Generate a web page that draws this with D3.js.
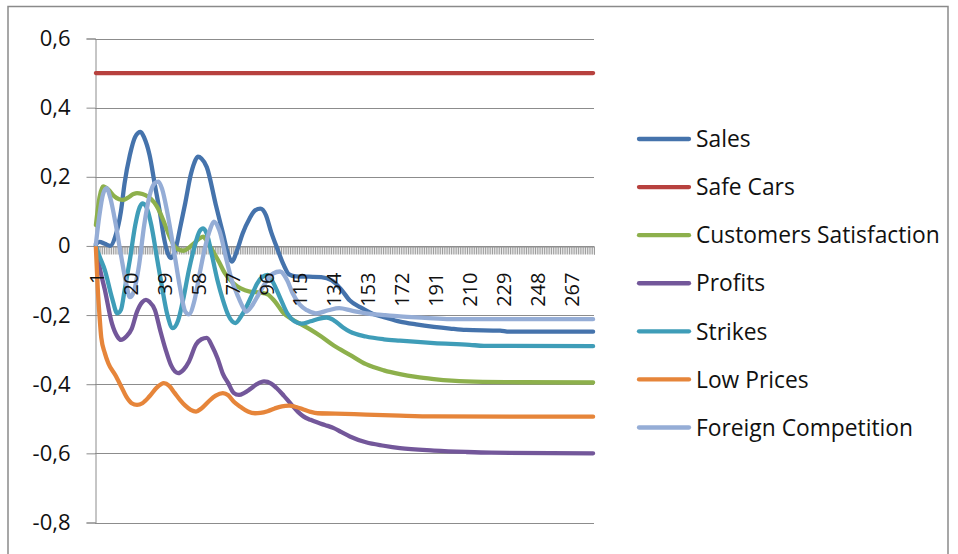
<!DOCTYPE html>
<html>
<head>
<meta charset="utf-8">
<script src="https://cdn.jsdelivr.net/npm/d3@7"></script>
<style>
  html, body { margin: 0; padding: 0; background: #fff; }
  svg { display: block; }
  text { font-family: "Open Sans", "Liberation Sans", sans-serif; fill: #111; }
</style>
</head>
<body>
<svg id="chart" width="958" height="554"></svg>
<script>
// ---------- data ----------
const categoryCount = 279;                       // categories 1 .. 279
const xTickLabels = [1, 20, 39, 58, 77, 96, 115, 134, 153, 172, 191, 210, 229, 248, 267];
const yTickValues = [-0.8, -0.6, -0.4, -0.2, 0, 0.2, 0.4, 0.6];
const seriesNames = ["Sales", "Safe Cars", "Customers Satisfaction", "Profits", "Strikes", "Low Prices", "Foreign Competition"];
const seriesColors = ["#4573AC", "#B7413E", "#8DB04C", "#73579A", "#3F9DB8", "#E6853A", "#95ADD6"];

// [category, value] readings
const sales = [[1,0.005],[3,0.012],[6,0.006],[9,0.0],[12,0.03],[15,0.1],[17,0.18],[20,0.263],[23,0.316],[26,0.33],[28,0.313],[31,0.263],[34,0.176],[37,0.09],[39,0.025],[43,-0.035],[46,0.0],[48,0.05],[51,0.125],[54,0.205],[56,0.24],[58,0.258],[60,0.253],[63,0.228],[68,0.12],[72,0.037],[75,-0.025],[77,-0.045],[80,-0.012],[83,0.035],[87,0.08],[90,0.103],[93,0.108],[96,0.09],[99,0.04],[102,-0.002],[106,-0.055],[109,-0.082],[113,-0.088],[120,-0.089],[127,-0.09],[133,-0.1],[138,-0.125],[143,-0.158],[149,-0.178],[156,-0.197],[162,-0.206],[171,-0.219],[180,-0.227],[190,-0.234],[199,-0.239],[208,-0.243],[227,-0.245],[232,-0.248],[279,-0.248]];
const safeCars = [[1,0.5],[279,0.5]];
const customersSatisfaction = [[1,0.06],[3,0.14],[5,0.172],[8,0.163],[11,0.145],[14,0.135],[16,0.133],[19,0.14],[22,0.15],[24,0.153],[27,0.15],[30,0.143],[32,0.135],[35,0.115],[37,0.095],[39,0.07],[41,0.043],[43,0.018],[45,-0.002],[47,-0.01],[50,-0.014],[53,-0.005],[56,0.008],[59,0.022],[61,0.027],[62,0.022],[65,-0.003],[70,-0.048],[73,-0.078],[76,-0.098],[79,-0.113],[82,-0.123],[87,-0.132],[93,-0.135],[97,-0.14],[101,-0.16],[106,-0.195],[110,-0.21],[115,-0.225],[121,-0.242],[127,-0.262],[134,-0.288],[143,-0.315],[152,-0.342],[162,-0.36],[171,-0.371],[180,-0.379],[190,-0.385],[208,-0.392],[230,-0.394],[279,-0.395]];
const profits = [[1,0.0],[3,-0.06],[6,-0.127],[10,-0.225],[13,-0.262],[15,-0.272],[18,-0.262],[21,-0.24],[24,-0.19],[27,-0.162],[29,-0.156],[31,-0.162],[34,-0.185],[37,-0.245],[40,-0.3],[43,-0.345],[47,-0.368],[50,-0.358],[53,-0.335],[57,-0.285],[60,-0.27],[63,-0.266],[66,-0.29],[69,-0.325],[72,-0.37],[75,-0.397],[78,-0.425],[81,-0.431],[84,-0.425],[87,-0.415],[91,-0.4],[95,-0.392],[99,-0.398],[102,-0.411],[106,-0.433],[110,-0.457],[114,-0.48],[117,-0.493],[121,-0.503],[125,-0.511],[129,-0.518],[134,-0.527],[138,-0.538],[143,-0.551],[152,-0.568],[162,-0.578],[171,-0.585],[190,-0.592],[208,-0.596],[222,-0.598],[279,-0.6]];
const strikes = [[1,0.0],[3,-0.03],[6,-0.07],[10,-0.15],[13,-0.195],[15,-0.185],[17,-0.13],[20,-0.04],[23,0.06],[25,0.105],[27,0.123],[29,0.115],[32,0.06],[35,-0.03],[38,-0.12],[41,-0.2],[44,-0.238],[47,-0.215],[50,-0.15],[53,-0.07],[56,-0.005],[59,0.043],[61,0.051],[63,0.035],[66,-0.03],[69,-0.1],[72,-0.156],[75,-0.2],[79,-0.223],[82,-0.205],[85,-0.178],[88,-0.145],[91,-0.11],[94,-0.09],[97,-0.084],[100,-0.105],[104,-0.15],[108,-0.195],[112,-0.218],[116,-0.225],[121,-0.218],[126,-0.21],[130,-0.207],[134,-0.215],[139,-0.235],[143,-0.248],[152,-0.262],[162,-0.27],[171,-0.274],[190,-0.281],[210,-0.286],[218,-0.289],[279,-0.29]];
const lowPrices = [[1,-0.005],[2,-0.12],[3,-0.2],[4,-0.265],[6,-0.31],[8,-0.34],[12,-0.375],[15,-0.405],[18,-0.436],[21,-0.455],[24,-0.46],[27,-0.455],[31,-0.435],[35,-0.41],[39,-0.397],[42,-0.405],[45,-0.425],[48,-0.445],[51,-0.462],[54,-0.474],[57,-0.479],[60,-0.47],[64,-0.45],[68,-0.433],[72,-0.426],[75,-0.432],[78,-0.45],[82,-0.466],[86,-0.479],[90,-0.484],[93,-0.483],[97,-0.478],[101,-0.47],[105,-0.464],[109,-0.462],[113,-0.466],[117,-0.473],[121,-0.48],[125,-0.484],[135,-0.485],[152,-0.488],[171,-0.491],[190,-0.493],[279,-0.494]];
const foreignCompetition = [[1,0.005],[3,0.09],[5,0.15],[7,0.167],[9,0.14],[12,0.065],[15,-0.026],[18,-0.11],[20,-0.148],[22,-0.135],[25,-0.06],[28,0.06],[31,0.145],[34,0.182],[36,0.186],[38,0.165],[41,0.095],[45,-0.026],[48,-0.12],[51,-0.19],[53,-0.198],[56,-0.16],[59,-0.08],[62,-0.005],[65,0.05],[67,0.07],[70,0.045],[74,-0.04],[77,-0.1],[80,-0.14],[83,-0.175],[85,-0.19],[88,-0.175],[92,-0.14],[96,-0.105],[100,-0.08],[104,-0.074],[108,-0.1],[111,-0.137],[115,-0.17],[119,-0.186],[124,-0.195],[131,-0.186],[137,-0.18],[144,-0.187],[152,-0.195],[162,-0.2],[171,-0.204],[185,-0.208],[199,-0.212],[279,-0.212]];

const seriesData = [sales, safeCars, customersSatisfaction, profits, strikes, lowPrices, foreignCompetition];

// ---------- layout ----------
const svg = d3.select("#chart");
const plot = { left: 95, right: 594, top: 38.5, bottom: 522.5 };

// outer frame
svg.append("rect")
  .attr("x", 8).attr("y", 6.5).attr("width", 940).attr("height", 560)
  .attr("fill", "#fff").attr("stroke", "#8a8a8a").attr("stroke-width", 1.5);

const x = d3.scaleLinear().domain([0.5, categoryCount + 0.5]).range([plot.left, plot.right]);
const y = d3.scaleLinear().domain([-0.8, 0.6]).range([plot.bottom, plot.top]);

const fmt = d => d === 0 ? "0" : d3.format(".1f")(d).replace(".", ",").replace("−", "-");

// gridlines
svg.append("g").selectAll("line").data(yTickValues).join("line")
  .attr("x1", plot.left).attr("x2", plot.right)
  .attr("y1", d => Math.round(y(d)) + 0.5).attr("y2", d => Math.round(y(d)) + 0.5)
  .attr("stroke", "#8c8c8c").attr("stroke-width", 1);

// y axis
const yAxis = svg.append("g").attr("transform", `translate(${plot.left + 0.5},0)`)
  .call(d3.axisLeft(y).tickValues(yTickValues).tickFormat(fmt).tickSize(9).tickPadding(16));
yAxis.select(".domain").attr("stroke", "#8c8c8c");
yAxis.selectAll(".tick line").attr("stroke", "#8c8c8c");
yAxis.selectAll(".tick text").attr("font-size", 22).attr("font-family", "Open Sans").attr("fill", "#111");

// x axis ticks (category axis crossing at 0)
const y0 = Math.round(y(0)) + 0.5;
const xTicks = svg.append("g").attr("transform", `translate(0,${y0})`)
  .call(d3.axisBottom(x).tickValues(d3.range(0.5, categoryCount + 1, 1)).tickFormat("").tickSize(8));
xTicks.select(".domain").attr("stroke", "#8c8c8c");
xTicks.selectAll(".tick line").attr("stroke", "#9a9a9a").attr("stroke-width", 1);

// series
const line = d3.line().x(d => x(d[0])).y(d => y(d[1])).curve(d3.curveMonotoneX);
svg.append("g").selectAll("path").data(seriesData).join("path")
  .attr("d", line)
  .attr("fill", "none")
  .attr("stroke", (d, i) => seriesColors[i])
  .attr("stroke-width", 4.3)
  .attr("stroke-linejoin", "round")
  .attr("stroke-linecap", "round");

// x labels drawn above the series
const xLabels = svg.append("g").attr("transform", `translate(0,${y0})`)
  .call(d3.axisBottom(x).tickValues(xTickLabels).tickFormat(d => d).tickSize(0));
xLabels.select(".domain").remove();
xLabels.selectAll(".tick text")
  .attr("transform", "rotate(-90)")
  .attr("x", -26).attr("y", 0).attr("dy", "0.36em")
  .attr("text-anchor", "end")
  .attr("font-size", 20).attr("font-family", "Open Sans").attr("fill", "#111");

// legend
const legend = svg.append("g");
const rowY = d3.scaleLinear().domain([0, 6]).range([139, 427.5]);
const items = legend.selectAll("g").data(seriesNames).join("g")
  .attr("transform", (d, i) => `translate(0,${rowY(i)})`);
items.append("line")
  .attr("x1", 639).attr("x2", 689).attr("y1", 0).attr("y2", 0)
  .attr("stroke", (d, i) => seriesColors[i]).attr("stroke-width", 4.3).attr("stroke-linecap", "round");
items.append("text")
  .attr("x", 696).attr("y", 0).attr("dy", "0.36em")
  .attr("font-size", 22.8).attr("fill", "#111")
  .text(d => d);
</script>
</body>
</html>
